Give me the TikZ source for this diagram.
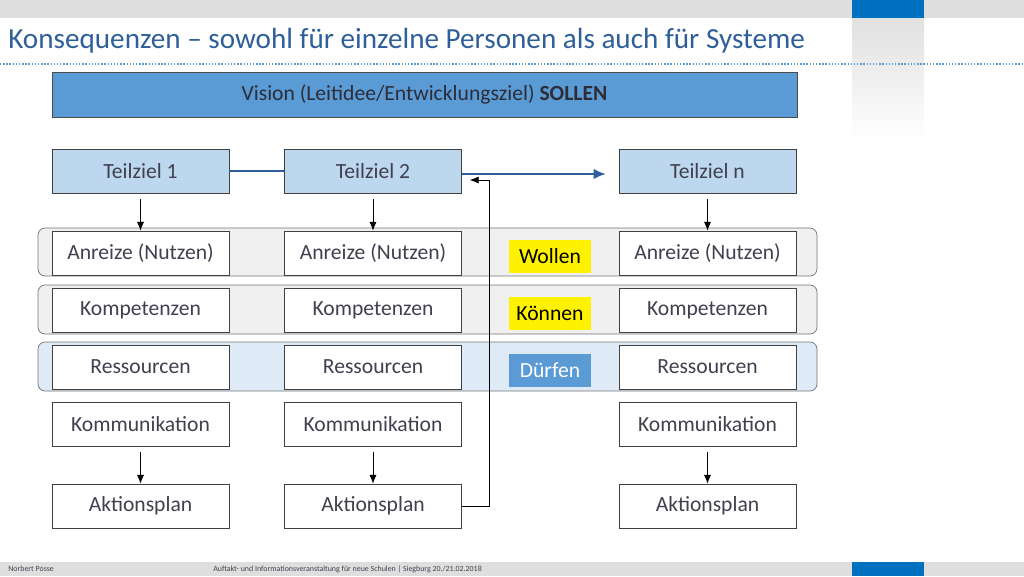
\documentclass[tikz,border=0pt]{standalone}
\usepackage{fontspec}
\setmainfont{Carlito}
\usetikzlibrary{arrows.meta,positioning}
\definecolor{titleblue}{RGB}{46,95,154}
\definecolor{visionblue}{RGB}{91,155,213}
\definecolor{cornerblue}{RGB}{0,112,192}
\definecolor{goalblue}{RGB}{189,215,238}
\definecolor{bandblue}{RGB}{222,235,247}
\definecolor{textgray}{RGB}{64,64,80}
\tikzset{
  box/.style={draw=black!75, fill=white, minimum width=3.54cm, minimum height=0.88cm, inner sep=0pt, font=\fontsize{12.3}{14}\selectfont, text=textgray},
  goal/.style={box, fill=goalblue},
  band/.style={draw=black!55, rounded corners=4pt, fill=black!6},
  tag/.style={minimum width=1.64cm, minimum height=0.66cm, inner sep=0pt, font=\fontsize{12.3}{14}\selectfont},
  down/.style={-{Latex[length=5pt,width=4pt]}, thin},
  flow/.style={-{Latex[length=7pt,width=6pt]}, line width=1.6pt, draw=titleblue},
}
\begin{document}
\begin{tikzpicture}[x=0.02cm, y=-0.02cm]
  \useasboundingbox (0,0) rectangle (1024,576);
  % frame of the slide
  \fill[black!13] (0,0) rectangle (1024,18);
  \fill[black!13] (0,562) rectangle (1024,576);
  \shade[top color=black!12, bottom color=white] (852,18) rectangle (924,140);
  \fill[cornerblue] (852,0) rectangle (924,18);
  \fill[cornerblue] (852,562) rectangle (924,576);
  \node[anchor=west, text=titleblue, font=\fontsize{16.6}{19}\selectfont, inner sep=0pt] (title) at (8,41) {Konsequenzen -- sowohl für einzelne Personen als auch für Systeme};
  \draw[visionblue, densely dotted, line width=0.8pt] (0,64) -- (1024,64);
  \node[anchor=west, font=\fontsize{4.5}{5}\selectfont, text=textgray, inner sep=0pt] (author) at (8,569) {Norbert Posse};
  \node[anchor=west, font=\fontsize{4.5}{5}\selectfont, text=textgray, inner sep=0pt] (event) at (213,569) {Auftakt- und Informationsveranstaltung für neue Schulen | Siegburg 20./21.02.2018};

  % vision
  \node[draw=black!70, fill=visionblue, minimum width=14.9cm, minimum height=0.9cm, inner sep=0pt, font=\fontsize{12.3}{14}\selectfont, text=textgray!70!black] (vision) at (424.5,94.5) {Vision (Leitidee/Entwicklungsziel) \textbf{SOLLEN}};

  % bands
  \draw[band] (38,228) rectangle (817,276);
  \draw[band] (38,285) rectangle (817,334);
  \draw[band, fill=bandblue] (38,342) rectangle (817,391);

  % columns
  \foreach \c/\x/\n in {a/140.5/1, b/373/2, c/707.5/n} {
    \node[goal] (goal\c) at (\x,171) {Teilziel \n};
    \node[box] (nutz\c) at (\x,253) {Anreize (Nutzen)};
    \node[box] (komp\c) at (\x,310) {Kompetenzen};
    \node[box] (ress\c) at (\x,367) {Ressourcen};
    \node[box] (komm\c) at (\x,424) {Kommunikation};
    \node[box] (plan\c) at (\x,506) {Aktionsplan};
    \draw[down] ([yshift=-0.12cm]goal\c.south) -- (nutz\c.north);
    \draw[down] ([yshift=-0.12cm]komm\c.south) -- (plan\c.north);
  }

  % tags
  \node[tag, fill=yellow] (wollen) at (550,256) {Wollen};
  \node[tag, fill=yellow] (koennen) at (550,313) {Können};
  \node[tag, fill=visionblue, text=white] (duerfen) at (550,370) {Dürfen};

  % connectors
  \draw[line width=1.6pt, titleblue] (goala.east) -- (goalb.west);
  \coordinate (arrowend) at (606,174);
  \draw[flow] (goalb.east |- arrowend) -- (arrowend);
  \coordinate (back) at (489,180);
  \draw[down] (planb.east) -| (back) -- ([xshift=0.16cm]goalb.east |- back);
\end{tikzpicture}
\end{document}
